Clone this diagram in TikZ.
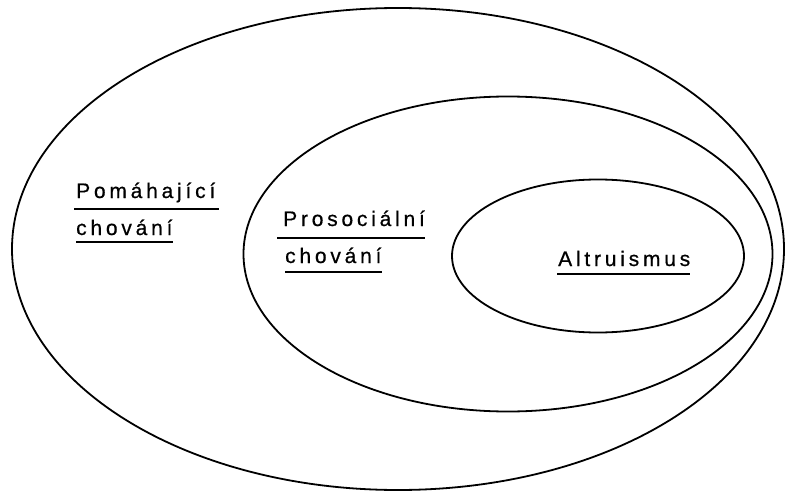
\documentclass[tikz,border=0pt]{standalone}
\usepackage{fontspec}
\usetikzlibrary{shapes.geometric}
\setmainfont{Liberation Sans}
\newfontfamily\lblfont[LetterSpace=18,FakeBold=0.6]{Liberation Sans}
\begin{document}
\begin{tikzpicture}[x=1pt,y=-1pt,
  ring/.style={draw=black,line width=1.8pt},
  lbl/.style={anchor=base west,inner sep=0pt,font=\lblfont\fontsize{21}{25}\selectfont},
  uline/.style={draw=black,line width=1.8pt}]
\useasboundingbox (0,0) rectangle (793,495);
\node[ring,ellipse,minimum width=772pt,minimum height=482pt,inner sep=0pt] (outer) at (398,249) {};
\node[ring,ellipse,minimum width=529pt,minimum height=315pt,inner sep=0pt] (middle) at (508,254) {};
\node[ring,ellipse,minimum width=292pt,minimum height=153pt,inner sep=0pt] (inner) at (598,256) {};
% labels
\node[lbl] (p1) at (76,198) {Pomáhající};
\node[lbl] (p2) at (76,235) {chování};
\node[lbl] (s1) at (283,226) {Prosociální};
\node[lbl] (s2) at (285,263) {chování};
\node[lbl] (a1) at (558,266) {Altruismus};
% underlines
\draw[uline] ([xshift=-2pt,yshift=-11pt]p1.base west) -- ([xshift=4pt,yshift=-11pt]p1.base east);
\draw[uline] ([yshift=-7pt]p2.base west) -- ([yshift=-7pt]p2.base east);
\draw[uline] ([xshift=-6pt,yshift=-12pt]s1.base west) -- ([yshift=-12pt]s1.base east);
\draw[uline] ([yshift=-9pt]s2.base west) -- ([yshift=-9pt]s2.base east);
\draw[uline] ([xshift=-1pt,yshift=-8pt]a1.base west) -- ([yshift=-8pt]a1.base east);
\end{tikzpicture}
\end{document}
